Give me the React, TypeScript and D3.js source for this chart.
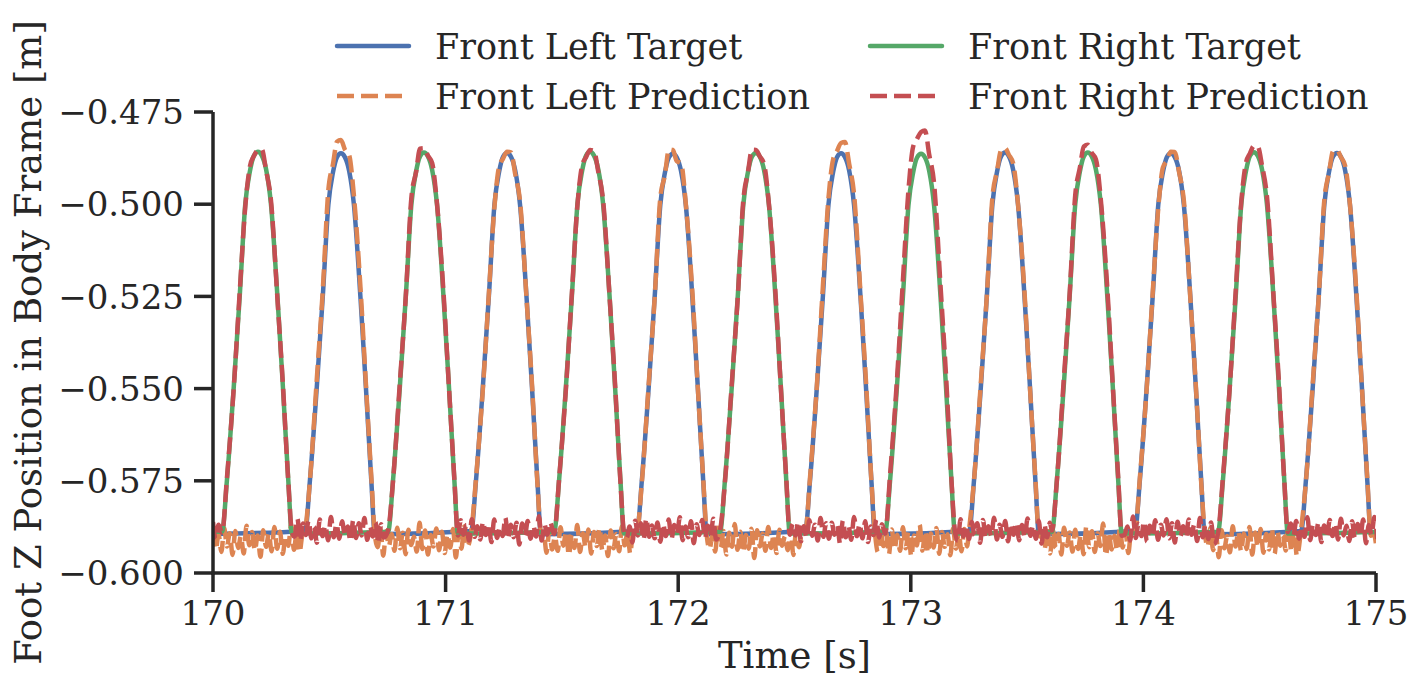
import React from 'react';
import * as d3 from 'd3';

// chart size / layout
const W = 1423;
const H = 691;
const left = 213;
const right = 1376;
const top = 112;
const bottom = 573;

const timeDomain = [170, 175];
const zDomain = [-0.6, -0.475];
const xTicks = [170, 171, 172, 173, 174, 175];
const yTicks = [-0.6, -0.575, -0.55, -0.525, -0.5, -0.475];

// shape of one swing: offset from apex [s] and fraction of lift height
const swingOffsetT = [-0.150, -0.129, -0.100, -0.074, -0.050, -0.030, -0.013, 0.004, 0.021, 0.039, 0.060, 0.088, 0.112, 0.135, 0.150];
const swingShape = [0, 0.136, 0.379, 0.621, 0.864, 0.95, 0.99, 1, 0.99, 0.955, 0.864, 0.621, 0.379, 0.136, 0];

// front left (blue / orange)
const flPeakT = [170.546, 171.260, 171.973, 172.696, 173.401, 174.114, 174.828];
const flPeakZ = [-0.4862, -0.4861, -0.4863, -0.4862, -0.4860, -0.4862, -0.4861];
const flPredPeakZ = [-0.4826, -0.4858, -0.4853, -0.4834, -0.4848, -0.4858, -0.4853];
const flLiftZ = -0.5886;
const flTouchZ = -0.5895;
const flStartZ = -0.5894;
const flEndZ = -0.5895;
const flNoiseZ = -0.589;

// front right (green / red)
const frPeakT = [170.189, 170.903, 171.617, 172.330, 173.040, 173.757, 174.471];
const frPeakZ = [-0.4858, -0.4860, -0.4858, -0.4861, -0.4863, -0.4860, -0.4859];
const frPredPeakZ = [-0.4853, -0.4848, -0.4853, -0.4853, -0.4804, -0.4839, -0.4842];
const frLiftZ = -0.5888;
const frTouchZ = -0.5893;
const frStartZ = -0.5888;
const frEndZ = -0.5889;
const frNoiseZ = -0.5894;

// prediction noise during stance [mm around the noise level], one sample per step
const noiseStep = 0.012;

const flNoise = [
  0.8, -4.6, -0.5, -5.3, 1.2, -3.8, -0.2, -6.1, 0.4, -4.2, -1.0, -5.7, 1.8, -3.5, 0.1, -4.9, -0.8, -6.6, 0.6, -3.9,
  -0.3, -5.1, 1.5, -4.4, 0.2, -5.8, -0.9, -3.6, 2.2, -4.7, 0.0, -5.4, -0.6, -4.0, 1.0, -6.3, 0.3, -3.7, -0.4, -5.0,
  1.3, -4.3, -0.1, -5.9, 0.7, -3.4, -1.2, -5.2, 2.6, -4.5, 0.5, -6.0, -0.7, -3.8, 1.1, -4.8, 0.2, -5.6, -0.5, -4.1,
  0.9, -6.8, 0.0, -4.4, 1.6, -3.9, -0.3, -5.5, 0.6, -4.6, -1.1, -5.0, 1.4, -3.6, 0.3, -6.2, -0.6, -4.2, 2.0, -5.3,
  -0.2, -4.0, 0.8, -5.7, 0.1, -3.7, 1.2, -4.9, -0.8, -6.4, 0.5, -4.3, -0.4, -5.1, 1.7, -3.5, 0.0, -5.8, 0.9, -4.5,
  -0.9, -5.2, 1.3, -4.1, 0.4, -6.0, -0.1, -3.9, 2.3, -4.7, 0.2, -5.4, -0.7, -4.4, 1.0, -6.9, 0.6, -3.8, -0.3, -5.0,
  1.5, -4.2, -0.5, -5.6, 0.7, -3.6, -1.0, -4.8, 1.9, -6.1, 0.3, -4.0, -0.2, -5.3, 1.1, -3.7, 0.0, -5.9, 0.8, -4.6,
  -0.6, -5.0, 1.4, -4.3, 0.2, -6.5, -0.8, -3.5, 2.1, -4.9, 0.4, -5.5, -0.3, -4.1, 1.2, -5.8, 0.1, -3.9, -0.5, -6.2,
  1.0, -4.4, -0.1, -5.1, 0.9, -3.8, -1.3, -4.7, 1.6, -5.7, 0.5, -4.2, -0.4, -6.0, 1.3, -3.6, 0.0, -5.2, 0.7, -4.5,
  -0.7, -5.9, 1.8, -4.0, 0.3, -5.3, -0.2, -3.7, 2.4, -6.3, 0.1, -4.6, -0.9, -5.0, 1.0, -4.1, 0.4, -5.6, -0.1, -3.9,
  1.2, -4.8, -0.6, -6.7, 0.6, -4.3, -1.0, -5.4, 1.7, -3.8, 0.2, -5.1, -0.3, -4.5, 1.5, -6.0, 0.0, -4.0, 0.9, -5.5,
  -0.4, -4.6, 1.1, -5.8, 0.3, -3.6, -0.8, -4.9, 2.0, -5.2, 0.5, -6.4, -0.2, -4.2, 1.3, -3.9, 0.1, -5.7, -0.6, -4.4,
  0.8, -5.3, -0.1, -4.1, 1.4, -6.2, 0.2, -3.7, -0.9, -5.0, 1.9, -4.6, 0.4, -5.5, -0.5, -4.0, 1.1, -6.6, 0.0, -4.3,
  -0.3, -5.6, 1.6, -3.8, 0.6, -4.9, -1.1, -5.9, 1.0, -4.2, 0.3, -5.1, -0.7, -3.6, 2.2, -6.1, 0.1, -4.7, -0.2, -5.4,
  1.3, -4.0, -0.4, -5.7, 0.5, -3.9, -0.9, -6.3, 1.8, -4.4, 0.0, -5.2, -0.6, -4.8, 1.4, -3.7, 0.2, -5.8, 0.7, -4.5,
];

const frNoise = [
  3.2, -1.4, 2.5, -0.8, 4.1, -1.9, 2.8, -0.3, 3.6, -1.2, 1.9, -2.4, 3.9, -0.6, 2.3, -1.7, 4.6, -0.9, 2.7, -1.3,
  3.4, -0.5, 2.0, -2.0, 3.8, -1.1, 2.9, -0.4, 4.3, -1.6, 2.2, -0.7, 3.1, -2.6, 2.6, -1.0, 3.7, -0.2, 2.4, -1.8,
  4.0, -0.8, 2.1, -1.5, 3.3, -0.3, 2.7, -2.2, 3.9, -1.1, 1.8, -0.6, 4.4, -1.4, 2.5, -0.9, 3.0, -2.9, 2.8, -0.5,
  3.5, -1.3, 2.2, -0.7, 4.8, -1.8, 2.6, -0.2, 3.2, -1.0, 2.0, -2.3, 3.6, -0.4, 2.9, -1.6, 4.2, -0.8, 2.3, -1.2,
  3.1, -2.1, 2.7, -0.6, 3.9, -1.4, 2.4, -0.1, 4.5, -1.7, 2.0, -0.9, 3.4, -2.5, 2.6, -0.3, 3.8, -1.2, 2.2, -0.7,
  4.1, -1.5, 2.8, -0.4, 3.3, -2.0, 2.1, -1.1, 3.7, -0.5, 2.5, -1.8, 4.3, -0.8, 2.9, -1.3, 3.0, -0.2, 2.4, -2.7,
  3.6, -0.9, 2.2, -1.6, 4.6, -0.6, 2.7, -1.2, 3.4, -2.2, 2.0, -0.3, 3.9, -1.0, 2.6, -1.9, 4.0, -0.7, 2.3, -1.4,
  3.2, -0.4, 2.9, -2.4, 3.8, -1.1, 2.1, -0.6, 4.4, -1.5, 2.5, -0.8, 3.5, -2.0, 2.8, -0.2, 3.1, -1.7, 2.4, -1.0,
  4.2, -0.5, 2.3, -1.3, 3.6, -2.6, 2.6, -0.9, 3.0, -0.3, 2.0, -1.8, 4.7, -1.1, 2.7, -0.6, 3.4, -2.1, 2.2, -0.8,
  3.7, -1.6, 2.5, -0.4, 4.0, -1.2, 2.9, -2.3, 3.3, -0.7, 2.1, -1.0, 3.9, -0.2, 2.6, -1.9, 4.3, -0.9, 2.4, -1.4,
  3.1, -2.8, 2.8, -0.5, 3.5, -1.3, 2.0, -0.8, 4.5, -1.7, 2.6, -0.3, 3.2, -2.2, 2.3, -1.1, 3.8, -0.6, 2.9, -1.5,
  4.1, -0.4, 2.2, -1.9, 3.4, -1.0, 2.7, -0.7, 3.9, -2.5, 2.4, -0.2, 4.6, -1.4, 2.1, -0.9, 3.0, -1.8, 2.8, -0.5,
  3.6, -1.2, 2.5, -2.0, 4.2, -0.6, 2.0, -1.3, 3.3, -0.3, 2.9, -2.4, 3.7, -1.0, 2.6, -0.8, 4.4, -1.6, 2.3, -0.4,
  3.2, -1.9, 2.7, -0.7, 3.8, -1.1, 2.2, -2.7, 4.0, -0.5, 2.4, -1.4, 3.5, -0.2, 2.8, -1.7, 3.1, -0.9, 2.1, -2.1,
  4.3, -0.6, 2.6, -1.2, 3.4, -1.8, 2.9, -0.3, 3.9, -1.5, 2.0, -0.8, 4.7, -2.3, 2.5, -1.0, 3.6, -0.4, 2.2, -1.6,
];

// small deviations of the prediction along each swing [mm]
const flWobble = [
  [0.5, -0.6, 0.8, -0.5, 0.9, -1.2, 0.6, 0.0, -1.5, 0.8, -0.7, 0.5, -0.4, 0.6, -0.3],
  [-0.4, 0.5, -0.7, 0.6, -0.9, 1.1, -0.8, 0.0, 0.9, -1.3, 0.7, -0.5, 0.8, -0.6, 0.4],
  [0.3, -0.7, 0.5, -0.8, 1.0, -1.6, 1.2, 0.0, -2.0, 1.1, -0.6, 0.9, -0.5, 0.4, -0.5],
  [-0.5, 0.4, -0.6, 0.9, -0.7, 0.8, -1.1, 0.0, 1.3, -0.9, 0.6, -0.8, 0.5, -0.4, 0.3],
  [0.6, -0.3, 0.7, -0.6, 0.8, -0.9, 0.5, 0.0, -0.8, 0.6, -1.0, 0.4, -0.7, 0.5, -0.4],
  [-0.3, 0.6, -0.5, 0.7, -1.2, 0.9, -1.4, 0.0, 1.0, -0.7, 0.8, -0.6, 0.4, -0.5, 0.5],
  [0.4, -0.5, 0.8, -0.4, 0.6, -1.0, 0.7, 0.0, -0.9, 0.5, -0.6, 0.7, -0.3, 0.6, -0.4],
];
const frWobble = [
  [-0.3, 0.6, -0.5, 0.9, -1.1, 0.8, -0.6, 0.0, 1.2, -0.8, 0.6, -0.9, 0.5, -0.4, 0.6],
  [0.5, -0.4, 0.7, -0.6, 0.8, -1.3, 0.9, 0.0, -1.0, 0.7, -0.8, 0.5, -0.6, 0.3, -0.5],
  [-0.6, 0.3, -0.8, 0.5, -0.7, 1.0, -0.9, 0.0, 0.8, -1.1, 0.6, -0.4, 0.7, -0.5, 0.4],
  [0.4, -0.7, 0.6, -0.9, 0.5, -0.8, 1.1, 0.0, -0.7, 0.9, -0.5, 0.8, -0.6, 0.4, -0.3],
  [-0.5, 0.8, -0.4, 0.7, -1.0, 1.4, -0.8, 0.0, 1.5, -1.2, 0.9, -0.7, 1.0, -0.6, 0.5],
  [0.3, -0.5, 0.9, -0.6, 0.7, -0.9, 0.6, 0.0, -1.1, 0.8, -0.6, 0.9, -0.4, 0.5, -0.6],
  [-0.4, 0.6, -0.7, 0.5, -0.8, 0.7, -1.0, 0.0, 0.9, -0.6, 0.7, -0.5, 0.8, -0.3, 0.4],
];

const legendItems = [
  { label: 'Front Left Target', color: '#4c72b0', dashed: false, col: 0, row: 0 },
  { label: 'Front Left Prediction', color: '#dd8452', dashed: true, col: 0, row: 1 },
  { label: 'Front Right Target', color: '#55a868', dashed: false, col: 1, row: 0 },
  { label: 'Front Right Prediction', color: '#c44e52', dashed: true, col: 1, row: 1 },
];

type Pt = [number, number];

function swingPoints(peakT: number, peakZ: number, liftZ: number, touchZ: number, wobble?: number[]): Pt[] {
  return swingOffsetT.map((o, k) => {
    const base = o < 0 ? liftZ : touchZ;
    const w = wobble ? wobble[k] / 1000 : 0;
    return [peakT + o, base + swingShape[k] * (peakZ - base) + w];
  });
}

function targetPoints(peakT: number[], peakZ: number[], liftZ: number, touchZ: number, startZ: number, endZ: number): Pt[] {
  const pts: Pt[] = [[timeDomain[0], startZ]];
  peakT.forEach((p, i) => pts.push(...swingPoints(p, peakZ[i], liftZ, touchZ)));
  pts.push([timeDomain[1], endZ]);
  return pts;
}

function predictionPoints(
  peakT: number[], peakZ: number[], liftZ: number, touchZ: number,
  wobble: number[][], noise: number[], noiseZ: number,
): Pt[] {
  const pts: Pt[] = [];
  let n = 0;
  const stance = (a: number, b: number) => {
    for (let t = a + noiseStep; t < b - noiseStep / 2; t += noiseStep) {
      pts.push([t, noiseZ + noise[n % noise.length] / 1000]);
      n++;
    }
  };
  const first = swingOffsetT[0];
  const last = swingOffsetT[swingOffsetT.length - 1];
  stance(timeDomain[0] - noiseStep, peakT[0] + first);
  peakT.forEach((p, i) => {
    pts.push(...swingPoints(p, peakZ[i], liftZ, touchZ, wobble[i]));
    const next = i + 1 < peakT.length ? peakT[i + 1] + first : timeDomain[1] + noiseStep;
    stance(p + last, next);
  });
  return pts;
}

const App = () => {
  const x = d3.scaleLinear().domain(timeDomain).range([left, right]);
  const y = d3.scaleLinear().domain(zDomain).range([bottom, top]);
  const line = d3
    .line<Pt>()
    .x((d) => x(d[0]))
    .y((d) => y(d[1]))
    .curve(d3.curveMonotoneX);

  const series = [
    { d: targetPoints(flPeakT, flPeakZ, flLiftZ, flTouchZ, flStartZ, flEndZ), color: '#4c72b0', dashed: false },
    { d: predictionPoints(flPeakT, flPredPeakZ, flLiftZ, flTouchZ, flWobble, flNoise, flNoiseZ), color: '#dd8452', dashed: true },
    { d: targetPoints(frPeakT, frPeakZ, frLiftZ, frTouchZ, frStartZ, frEndZ), color: '#55a868', dashed: false },
    { d: predictionPoints(frPeakT, frPredPeakZ, frLiftZ, frTouchZ, frWobble, frNoise, frNoiseZ), color: '#c44e52', dashed: true },
  ];

  const ink = '#262626';
  const font = 'DejaVu Serif';
  const fs = 35;
  const labelFs = 37;
  const tickFs = 34;
  const lw = 4.5;
  const dash = '17,7';

  return (
    <svg width={W} height={H} style={{ position: 'absolute', left: 0, top: 0, background: '#fff' }} fontFamily={font}>
      <defs>
        <clipPath id="plot-clip">
          <rect x={left} y={0} width={right - left} height={bottom + 20} />
        </clipPath>
      </defs>

      <g clipPath="url(#plot-clip)" fill="none">
        {series.map((s, i) => (
          <path
            key={i}
            d={line(s.d) || ''}
            stroke={s.color}
            strokeWidth={lw}
            strokeDasharray={s.dashed ? dash : undefined}
            strokeLinejoin="round"
            strokeLinecap={s.dashed ? 'butt' : 'round'}
          />
        ))}
      </g>

      {/* spines */}
      <line x1={left} x2={left} y1={top} y2={bottom + 1.75} stroke={ink} strokeWidth={3.5} />
      <line x1={left - 1.75} x2={right} y1={bottom} y2={bottom} stroke={ink} strokeWidth={3.5} />

      {/* y ticks */}
      {yTicks.map((t) => (
        <g key={t}>
          <line x1={left - 19} x2={left} y1={y(t)} y2={y(t)} stroke={ink} strokeWidth={3.5} />
          <text x={left - 29} y={y(t)} dy="0.36em" textAnchor="end" fontSize={tickFs} fill={ink}>
            {'\u2212' + Math.abs(t).toFixed(3)}
          </text>
        </g>
      ))}

      {/* x ticks */}
      {xTicks.map((t) => (
        <g key={t}>
          <line x1={x(t)} x2={x(t)} y1={bottom} y2={bottom + 19} stroke={ink} strokeWidth={3.5} />
          <text x={x(t)} y={625} textAnchor="middle" fontSize={tickFs} fill={ink}>
            {t}
          </text>
        </g>
      ))}

      <text x={(left + right) / 2} y={668} textAnchor="middle" fontSize={labelFs} fill={ink}>
        Time [s]
      </text>
      <text
        transform={`translate(41,${(top + bottom) / 2}) rotate(-90)`}
        textAnchor="middle"
        fontSize={labelFs}
        fill={ink}
      >
        Foot Z Position in Body Frame [m]
      </text>

      {/* legend */}
      {legendItems.map((it) => {
        const lx = it.col === 0 ? 337 : 870;
        const tx = it.col === 0 ? 435 : 968;
        const ly = it.row === 0 ? 46 : 96;
        return (
          <g key={it.label}>
            <line
              x1={lx}
              x2={lx + 72}
              y1={ly}
              y2={ly}
              stroke={it.color}
              strokeWidth={lw}
              strokeDasharray={it.dashed ? dash : undefined}
              strokeLinecap={it.dashed ? 'butt' : 'round'}
            />
            <text x={tx} y={ly} dy="0.36em" fontSize={fs} fill={ink}>
              {it.label}
            </text>
          </g>
        );
      })}
    </svg>
  );
};

export default App;
